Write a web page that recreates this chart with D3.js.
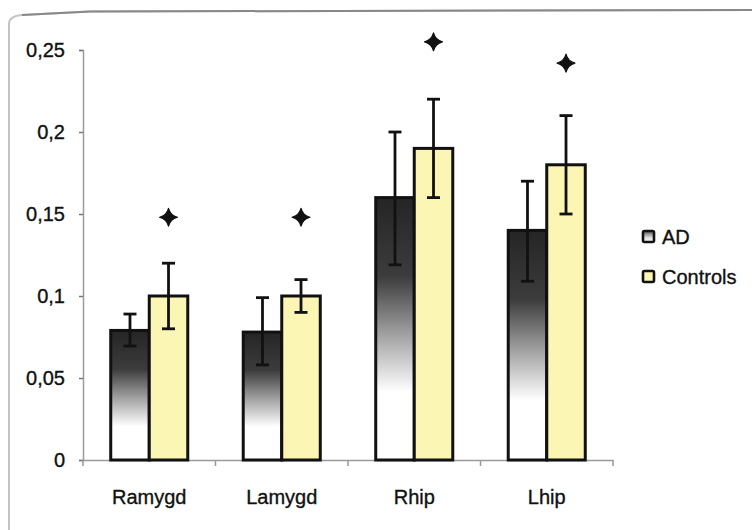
<!DOCTYPE html>
<html>
<head>
<meta charset="utf-8">
<script src="https://cdn.jsdelivr.net/npm/d3@7"></script>
<style>
  html, body { margin: 0; padding: 0; background: #fff; }
  svg { display: block; }
  text { font-family: "Liberation Sans", Arial, sans-serif; fill: #111; stroke: #111; stroke-width: 0.35px; }
</style>
</head>
<body>
<svg id="chart" width="752" height="530"></svg>
<script>
// ---- data ----
const categories = ["Ramygd", "Lamygd", "Rhip", "Lhip"];
const seriesNames = ["AD", "Controls"];
const adValues = [0.079, 0.078, 0.160, 0.140];
const adErrLow = [0.0695, 0.058, 0.119, 0.109];
const adErrHigh = [0.089, 0.099, 0.200, 0.170];
const ctlValues = [0.100, 0.100, 0.190, 0.180];
const ctlErrLow = [0.080, 0.090, 0.160, 0.150];
const ctlErrHigh = [0.120, 0.110, 0.220, 0.210];
const sigMarkY = [0.148, 0.148, 0.255, 0.242];
const yTicks = [0, 0.05, 0.1, 0.15, 0.2, 0.25];
const yTickLabels = ["0", "0,05", "0,1", "0,15", "0,2", "0,25"];

const svg = d3.select("#chart");

// frame (scanned border)
svg.append("path")
  .attr("d", "M9,530 L9,24 Q9,16 22,15 L90,11.5 L752,10")
  .attr("fill", "none").attr("stroke", "#c4c4c4").attr("stroke-width", 2);
svg.append("path")
  .attr("d", "M22,15 L90,11.5 L752,10")
  .attr("fill", "none").attr("stroke", "#888").attr("stroke-width", 2);

// scales
const y = d3.scaleLinear().domain([0, 0.25]).range([460, 50]);
const x = d3.scaleBand().domain(categories).range([83, 613]).paddingInner(0).paddingOuter(0);
const xs = d3.scaleBand().domain(seriesNames).range([0, x.bandwidth()]).paddingInner(0).paddingOuter(0.72);

// gradient for AD
const defs = svg.append("defs");
const grad = defs.append("linearGradient").attr("id", "adGrad")
  .attr("x1", 0).attr("y1", 0).attr("x2", 0).attr("y2", 1);
[[0, "#252525"], [0.3, "#3c3c3c"], [0.52, "#a0a0a0"], [0.74, "#ffffff"], [1, "#ffffff"]]
  .forEach(([o, c]) => grad.append("stop").attr("offset", o).attr("stop-color", c));
const ctlFill = "#fcf6b4";

// y axis
const yAxis = d3.axisLeft(y).tickValues(yTicks)
  .tickFormat((d, i) => yTickLabels[i]).tickSize(4).tickPadding(14);
const gy = svg.append("g").attr("transform", "translate(83,0)").call(yAxis);
gy.select(".domain").attr("stroke", "#9a9a9a").attr("stroke-width", 1.5);
gy.selectAll(".tick line").attr("stroke", "#777").attr("stroke-width", 1.5);
gy.selectAll(".tick text").style("font-size", "20px").attr("fill", "#111");

// x axis (labels)
const xAxis = d3.axisBottom(x).tickSize(0).tickPadding(30);
const gx = svg.append("g").attr("transform", "translate(0,460)").call(xAxis);
gx.select(".domain").attr("stroke", "#9a9a9a").attr("stroke-width", 1.5);
gx.selectAll(".tick text").style("font-size", "20px").attr("fill", "#111");
// boundary ticks
const bounds = categories.map(c => x(c)).concat([x.range()[1]]);
svg.append("g").selectAll("line").data(bounds).join("line")
  .attr("x1", d => d).attr("x2", d => d).attr("y1", 460).attr("y2", 466)
  .attr("stroke", "#999").attr("stroke-width", 1.5);

// bars
const rows = categories.map((c, i) => ({
  c,
  bars: [
    { s: "AD", v: adValues[i], lo: adErrLow[i], hi: adErrHigh[i] },
    { s: "Controls", v: ctlValues[i], lo: ctlErrLow[i], hi: ctlErrHigh[i] }
  ],
  sig: sigMarkY[i]
}));

const groups = svg.append("g").selectAll("g").data(rows).join("g")
  .attr("transform", d => `translate(${x(d.c)},0)`);

groups.selectAll("rect").data(d => d.bars).join("rect")
  .attr("x", d => xs(d.s))
  .attr("y", d => y(d.v))
  .attr("width", xs.bandwidth())
  .attr("height", d => y(0) - y(d.v))
  .attr("fill", d => d.s === "AD" ? "url(#adGrad)" : ctlFill)
  .attr("stroke", "#111").attr("stroke-width", 3);

// error bars
const capW = 13;
const eb = groups.selectAll("g.err").data(d => d.bars).join("g").attr("class", "err");
eb.append("line")
  .attr("x1", d => xs(d.s) + xs.bandwidth() / 2).attr("x2", d => xs(d.s) + xs.bandwidth() / 2)
  .attr("y1", d => y(d.lo)).attr("y2", d => y(d.hi))
  .attr("stroke", "#111").attr("stroke-width", 2.8);
["lo", "hi"].forEach(k => {
  eb.append("line")
    .attr("x1", d => xs(d.s) + xs.bandwidth() / 2 - capW / 2)
    .attr("x2", d => xs(d.s) + xs.bandwidth() / 2 + capW / 2)
    .attr("y1", d => y(d[k])).attr("y2", d => y(d[k]))
    .attr("stroke", "#111").attr("stroke-width", 2.8);
});

// significance marks (4-point star / plus)
const star4 = {
  draw(ctx, size) {
    const r = Math.sqrt(size) / 2, w = r * 0.34;
    ctx.moveTo(0, -r);
    ctx.quadraticCurveTo(w * 0.6, -w * 0.6, r, 0);
    ctx.quadraticCurveTo(w * 0.6, w * 0.6, 0, r);
    ctx.quadraticCurveTo(-w * 0.6, w * 0.6, -r, 0);
    ctx.quadraticCurveTo(-w * 0.6, -w * 0.6, 0, -r);
    ctx.closePath();
  }
};
groups.append("path")
  .attr("d", d3.symbol().type(star4).size(320))
  .attr("transform", d => `translate(${xs("Controls") + xs.bandwidth() / 2},${y(d.sig)})`)
  .attr("fill", "#111").attr("stroke", "#111").attr("stroke-width", 1.2).attr("stroke-linejoin", "round");

// legend
const legend = svg.append("g");
const legItems = [{ s: "AD", fill: "url(#adGradL)" }, { s: "Controls", fill: ctlFill }];
const lg = defs.append("linearGradient").attr("id", "adGradL")
  .attr("x1", 0).attr("y1", 0).attr("x2", 0).attr("y2", 1);
[[0, "#555"], [0.6, "#ddd"], [1, "#fff"]]
  .forEach(([o, c]) => lg.append("stop").attr("offset", o).attr("stop-color", c));
const li = legend.selectAll("g").data(legItems).join("g")
  .attr("transform", (d, i) => `translate(643,${231 + i * 40})`);
li.append("rect").attr("width", 11).attr("height", 11).attr("rx", 1.5)
  .attr("fill", d => d.fill).attr("stroke", "#111").attr("stroke-width", 2.6);
li.append("text").attr("x", 19).attr("y", 12.5).text(d => d.s)
  .style("font-size", "20px");
</script>
</body>
</html>
